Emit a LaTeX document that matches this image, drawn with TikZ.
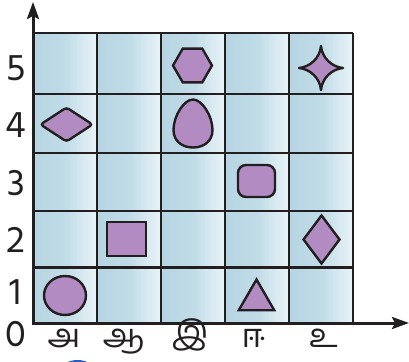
\documentclass[tikz,border=0pt]{standalone}
\usepackage{fontspec}
\newfontfamily\tamilfont[Script=Tamil]{Hind Madurai}
\usetikzlibrary{arrows.meta,positioning,shapes.geometric}
\definecolor{ink}{RGB}{35,31,32}
\definecolor{lilac}{RGB}{177,139,193}
\definecolor{cellL}{RGB}{182,213,226}
\definecolor{cellM}{RGB}{192,220,231}
\definecolor{cellR}{RGB}{234,244,248}
\definecolor{dotblue}{RGB}{40,90,200}
\tikzset{
  cell/.style={left color=cellL, right color=cellR, middle color=cellM},
  gridline/.style={draw=ink, line width=2.4pt},
  axis/.style={draw=ink, line width=3pt,
               {Stealth[length=17pt, width=12pt, inset=3pt]}-{Stealth[length=17pt, width=12pt, inset=3pt]}},
  shp/.style={draw=ink, fill=lilac, line width=2.4pt, inner sep=0pt},
  num/.style={font=\tamilfont\fontsize{38}{38}\selectfont, text=ink, inner sep=0pt},
  letter/.style={font=\tamilfont\fontsize{33}{33}\selectfont, text=ink, inner sep=0pt, anchor=base},
}

\begin{document}
\begin{tikzpicture}[x=1pt, y=1pt]
  \useasboundingbox (-33,-38) rectangle (376,323);
  % cells
  \foreach \c in {0,...,4}
    \foreach \ya/\yb in {0/55.5, 55.5/112, 112/170, 170/229, 229/290}
      \shade[cell] (64*\c,\ya) rectangle (64*\c+64,\yb);
  % grid
  \foreach \x in {64,128,192,256,320}
    \draw[gridline] (\x,0) -- (\x,290);
  \foreach \y in {55.5,112,170,229,290}
    \draw[gridline] (0,\y) -- (320,\y);
  % axes
  \coordinate (O) at (0,0);
  \coordinate (ytip) at (0,321);
  \coordinate (xtip) at (376,0);
  \draw[axis] (ytip) -- (O) -- (xtip);
  % row numbers
  \node[num] (n0) at (-17,-11) {0};
  \node[num] (n1) at (-17,31) {1};
  \node[num] (n2) at (-17,83) {2};
  \node[num] (n3) at (-17,140) {3};
  \node[num] (n4) at (-17,198) {4};
  \node[num] (n5) at (-17,255) {5};
  % column letters
  \node[letter] (la) at (31,-24) {அ};
  \node[letter] (laa) at (90.5,-24) {ஆ};
  \node[letter] (li) at (157,-21) {இ};
  \node[letter] (lii) at (220.5,-24) {ஈ};
  \node[letter] (lu) at (290.5,-24) {உ};
  % shapes
  \node[shp, ellipse, minimum width=42, minimum height=39] (circ) at (32,27.5) {};
  \node[shp, rectangle, minimum width=39, minimum height=34] (sq) at (93.5,84) {};
  \node[shp, regular polygon, regular polygon sides=3, minimum size=41] (tri) at (223.5,23) {};
  \node[shp, rectangle, rounded corners=8pt, minimum width=37, minimum height=32] (rsq) at (223.5,142) {};
  \node[shp, diamond, minimum width=37, minimum height=49] (dmd) at (288.5,83.5) {};
  \node[shp, diamond, rounded corners=3pt, minimum width=53, minimum height=35] (kite) at (33.5,198.5) {};
  \node[shp, regular polygon, regular polygon sides=6, minimum size=39] (hex) at (159.5,257.5) {};
  % egg
  \draw[shp] (160,175.5) .. controls (149,175.5) and (140.5,182) .. (140.5,193)
    .. controls (140.5,207) and (151,223.5) .. (160,223.5)
    .. controls (169,223.5) and (179.5,207) .. (179.5,193)
    .. controls (179.5,182) and (171,175.5) .. (160,175.5) -- cycle;
  % star
  \draw[shp, line join=round] (288,277) .. controls (289,265) and (299,256) .. (310,255)
    .. controls (299,254) and (289,245) .. (288,233)
    .. controls (287,245) and (277,254) .. (266,255)
    .. controls (277,256) and (287,265) .. (288,277) -- cycle;
  % blue mark at the bottom edge
  \draw[dotblue, line width=2pt] (44.5,-62) ++(120:24) arc (120:60:24);
\end{tikzpicture}
\end{document}
